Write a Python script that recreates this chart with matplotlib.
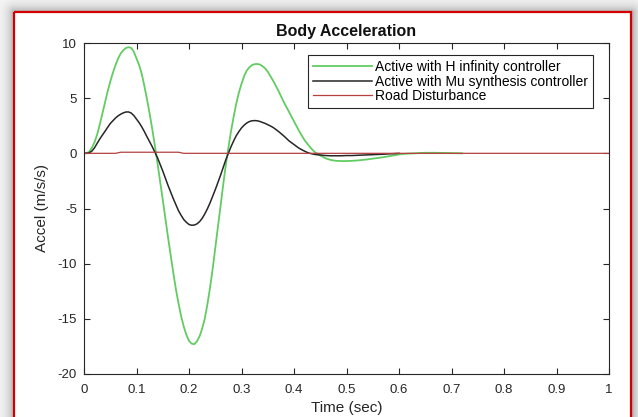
import numpy as np
import matplotlib.pyplot as plt
from matplotlib.patches import Rectangle

plt.rcParams['font.family'] = ['Liberation Sans', 'DejaVu Sans']
plt.rcParams['axes.unicode_minus'] = False

# H infinity response (time in sec, accel in m/s/s)
t_hinf = [0.000, 0.005, 0.010, 0.015, 0.020, 0.025, 0.030, 0.035, 0.040, 0.045,
          0.050, 0.055, 0.060, 0.065, 0.070, 0.075, 0.080, 0.085, 0.090, 0.095,
          0.100, 0.105, 0.110, 0.115, 0.120, 0.125, 0.130, 0.135, 0.140, 0.145,
          0.150, 0.155, 0.160, 0.165, 0.170, 0.175, 0.180, 0.185, 0.190, 0.195,
          0.200, 0.205, 0.210, 0.215, 0.220, 0.225, 0.230, 0.235, 0.240, 0.245,
          0.250, 0.255, 0.260, 0.265, 0.270, 0.275, 0.280, 0.285, 0.290, 0.295,
          0.300, 0.305, 0.310, 0.315, 0.320, 0.325, 0.330, 0.335, 0.340, 0.345,
          0.350, 0.355, 0.360, 0.365, 0.370, 0.375, 0.380, 0.385, 0.390, 0.395,
          0.400, 0.405, 0.410, 0.415, 0.420, 0.425, 0.430, 0.435, 0.440, 0.445,
          0.450, 0.46, 0.47, 0.48, 0.49, 0.50, 0.51, 0.52, 0.53, 0.54,
          0.55, 0.56, 0.57, 0.58, 0.59, 0.60, 0.61, 0.62, 0.63, 0.64,
          0.65, 0.66, 0.67, 0.68, 0.69, 0.70, 0.71, 0.72]
acc_hinf = [0.0, 0.02, 0.15, 0.5, 1.0, 1.7, 2.6, 3.6, 4.6, 5.6,
            6.5, 7.3, 8.0, 8.6, 9.05, 9.35, 9.55, 9.62, 9.55, 9.2,
            8.6, 8.0, 7.2, 6.1, 4.9, 3.6, 2.2, 0.7, -0.9, -2.55,
            -4.2, -5.9, -7.6, -9.2, -10.8, -12.3, -13.6, -14.75, -15.7, -16.45,
            -17.0, -17.25, -17.3, -17.05, -16.6, -15.9, -15.0, -13.7, -12.2, -10.5,
            -8.6, -6.7, -4.8, -2.9, -1.1, 0.5, 2.0, 3.3, 4.5, 5.5,
            6.3, 7.0, 7.5, 7.8, 8.0, 8.08, 8.1, 8.05, 7.9, 7.7,
            7.4, 7.0, 6.6, 6.15, 5.7, 5.2, 4.7, 4.25, 3.8, 3.35,
            2.9, 2.45, 2.0, 1.6, 1.2, 0.9, 0.6, 0.33, 0.1, -0.05,
            -0.2, -0.45, -0.6, -0.68, -0.7, -0.7, -0.68, -0.65, -0.6, -0.55,
            -0.48, -0.42, -0.35, -0.27, -0.18, -0.1, -0.05, -0.02, 0.0, 0.03,
            0.05, 0.05, 0.05, 0.04, 0.03, 0.02, 0.01, 0.0]

# Mu synthesis response
t_mu = [0.000, 0.005, 0.010, 0.015, 0.020, 0.025, 0.030, 0.035, 0.040, 0.045,
        0.050, 0.055, 0.060, 0.065, 0.070, 0.075, 0.080, 0.085, 0.090, 0.095,
        0.100, 0.105, 0.110, 0.115, 0.120, 0.125, 0.130, 0.135, 0.140, 0.145,
        0.150, 0.155, 0.160, 0.165, 0.170, 0.175, 0.180, 0.185, 0.190, 0.195,
        0.200, 0.205, 0.210, 0.215, 0.220, 0.225, 0.230, 0.235, 0.240, 0.245,
        0.250, 0.255, 0.260, 0.265, 0.270, 0.275, 0.280, 0.285, 0.290, 0.295,
        0.300, 0.305, 0.310, 0.315, 0.320, 0.325, 0.330, 0.335, 0.340, 0.345,
        0.350, 0.355, 0.360, 0.365, 0.370, 0.375, 0.380, 0.385, 0.390, 0.395,
        0.400, 0.405, 0.410, 0.415, 0.420, 0.425, 0.430, 0.435, 0.440, 0.445,
        0.450, 0.46, 0.47, 0.48, 0.49, 0.50, 0.51, 0.52, 0.53, 0.54,
        0.55, 0.56, 0.57, 0.58, 0.59, 0.60]
acc_mu = [0.0, 0.01, 0.05, 0.2, 0.5, 0.9, 1.3, 1.65, 2.0, 2.35,
          2.7, 2.95, 3.2, 3.4, 3.55, 3.67, 3.75, 3.75, 3.65, 3.42,
          3.1, 2.78, 2.4, 1.97, 1.5, 1.05, 0.6, 0.1, -0.4, -1.0,
          -1.6, -2.25, -2.9, -3.5, -4.1, -4.65, -5.2, -5.62, -6.0, -6.25,
          -6.45, -6.52, -6.5, -6.4, -6.2, -5.9, -5.5, -5.03, -4.5, -3.9,
          -3.3, -2.65, -2.0, -1.3, -0.6, 0.0, 0.6, 1.12, 1.6, 1.97,
          2.3, 2.55, 2.75, 2.88, 2.95, 2.97, 2.95, 2.89, 2.8, 2.71,
          2.6, 2.48, 2.35, 2.18, 2.0, 1.8, 1.6, 1.38, 1.15, 0.97,
          0.8, 0.62, 0.45, 0.32, 0.2, 0.09, 0.0, -0.05, -0.1, -0.13,
          -0.15, -0.2, -0.22, -0.22, -0.22, -0.2, -0.2, -0.18, -0.16, -0.14,
          -0.12, -0.1, -0.08, -0.05, -0.03, 0.0]

# road disturbance
t_road = [0.0, 0.06, 0.07, 0.18, 0.19, 1.0]
road = [0.0, 0.0, 0.1, 0.1, 0.0, 0.0]

labels = ['Active with H infinity controller',
          'Active with Mu synthesis controller',
          'Road Disturbance']

fig = plt.figure(figsize=(6.38, 4.17), dpi=100)

# drop shadow + red frame around the figure
W, H = 638, 417
xx, yy = np.meshgrid(np.arange(W), np.arange(H))
x0, x1, y0 = 14, 631, 12
dx = np.maximum(np.maximum(x0 - xx, xx - x1), 0)
dy = np.maximum(y0 - yy, 0)
d = np.hypot(dx, dy)
shade = np.where(d > 0, 248 - 85 * np.exp(-d / 6.0), 255) / 255.0
bg = fig.add_axes([0, 0, 1, 1])
bg.imshow(shade, cmap='gray', vmin=0, vmax=1, aspect='auto',
          extent=(0, W, H, 0), interpolation='bilinear')
bg.set_xlim(0, W)
bg.set_ylim(H, 0)
bg.axis('off')
bg.add_patch(Rectangle((x0, y0), x1 - x0, H + 10, fill=False,
                       edgecolor='#d40000', lw=1.6))

ax = fig.add_axes([84 / 638, 43 / 417, 525 / 638, 331 / 417])
ax.plot(t_hinf, acc_hinf, color='#62cc62', lw=1.3, label=labels[0])
ax.plot(t_mu, acc_mu, color='#262626', lw=1.1, label=labels[1])
ax.plot(t_road, road, color='#b5403f', lw=0.9, label=labels[2])

ax.set_xlim(0, 1)
ax.set_ylim(-20, 10)
ax.set_xticks([0, 0.1, 0.2, 0.3, 0.4, 0.5, 0.6, 0.7, 0.8, 0.9, 1])
ax.set_xticklabels(['0', '0.1', '0.2', '0.3', '0.4', '0.5', '0.6',
                    '0.7', '0.8', '0.9', '1'])
ax.set_yticks([-20, -15, -10, -5, 0, 5, 10])
ax.tick_params(direction='in', length=4, width=0.8, top=True, right=True,
               labelsize=9.5, colors='#262626')
ax.tick_params(axis='x', pad=7)
ax.tick_params(axis='y', pad=5)
for s in ax.spines.values():
    s.set_color('#262626')
    s.set_linewidth(0.8)

ax.set_title('Body Acceleration', fontsize=11.5, fontweight='bold',
             color='#111111', pad=5)
ax.set_xlabel('Time (sec)', fontsize=11, color='#262626', labelpad=4)
ax.set_ylabel('Accel (m/s/s)', fontsize=11, color='#262626', labelpad=6)

leg = ax.legend(loc='upper right', bbox_to_anchor=(0.9695, 0.9637),
                borderaxespad=0, fontsize=10, fancybox=False,
                handlelength=4.2, handletextpad=0.25, labelspacing=0.05,
                borderpad=0.35, framealpha=1)
leg.get_frame().set_edgecolor('#262626')
leg.get_frame().set_linewidth(0.8)

fig.savefig('out.png', dpi=100)
